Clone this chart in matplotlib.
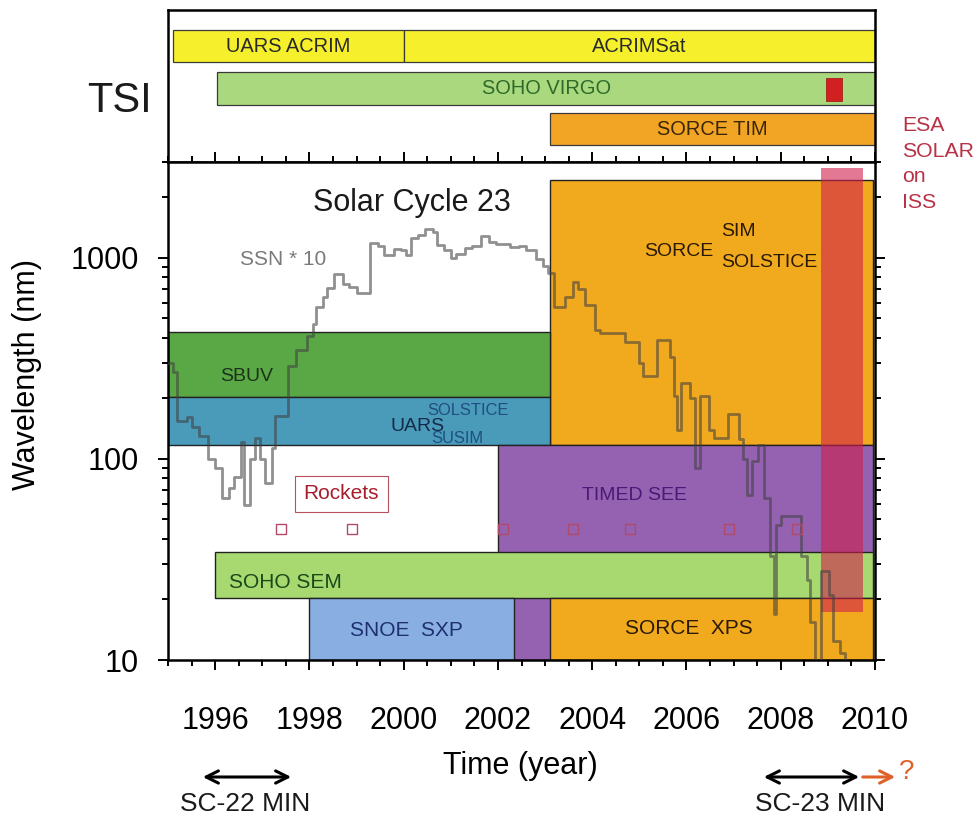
import numpy as np
import matplotlib.pyplot as plt
from matplotlib import font_manager
from matplotlib.patches import FancyArrowPatch
from matplotlib.ticker import FixedLocator, MultipleLocator, LogLocator, NullFormatter

# --- data ---
# TSI instruments (top panel)
tsi_names = ['UARS ACRIM', 'ACRIMSat', 'SOHO VIRGO', 'SORCE TIM']
tsi_start = [1995.1, 2000.0, 1996.05, 2003.1]
tsi_end = [2000.0, 2010.0, 2010.0, 2010.0]
virgo_mark = [2008.95, 2009.3]

# SSI instruments (lower panel): year range and wavelength range (nm)
band_names = ['SORCE SIM/SOLSTICE', 'SBUV', 'UARS', 'TIMED SEE', 'SOHO SEM', 'SNOE SXP', 'SORCE XPS']
band_start = [2003.1, 1995.0, 1995.0, 2002.0, 1996.0, 1998.0, 2003.1]
band_end = [2009.95, 2003.1, 2003.1, 2009.95, 2009.95, 2002.35, 2009.95]
band_lo = [117, 203, 117, 10, 20.3, 10, 10]
band_hi = [2440, 428, 203, 117, 34.4, 20.3, 20.3]

# ESA SOLAR on ISS
solar_start, solar_end = 2008.85, 2009.75
solar_lo, solar_hi = 17.3, 2800

# rocket flights
rocket_year = [1997.4, 1998.9, 2002.1, 2003.6, 2004.8, 2006.9, 2008.35]
rocket_wl = 45

# sunspot number * 10 (monthly-ish steps)
ssn_year = [1995.00, 1995.10, 1995.20, 1995.40, 1995.50, 1995.65, 1995.85, 1996.00,
            1996.15, 1996.30, 1996.40, 1996.55, 1996.62, 1996.75, 1996.85, 1996.95,
            1997.05, 1997.20, 1997.27, 1997.55, 1997.72, 1997.95, 1998.08, 1998.15,
            1998.28, 1998.38, 1998.52, 1998.72, 1998.85, 1999.00, 1999.28, 1999.45,
            1999.58, 1999.80, 1999.95, 2000.05, 2000.15, 2000.30, 2000.45, 2000.62,
            2000.70, 2000.85, 2001.00, 2001.12, 2001.30, 2001.45, 2001.65, 2001.82,
            2001.95, 2002.25, 2002.45, 2002.60, 2002.80, 2002.95, 2003.06, 2003.20,
            2003.42, 2003.59, 2003.70, 2003.84, 2004.06, 2004.16, 2004.70, 2005.00,
            2005.08, 2005.38, 2005.66, 2005.74, 2005.80, 2005.88, 2006.08, 2006.18,
            2006.28, 2006.48, 2006.58, 2006.88, 2007.12, 2007.20, 2007.28, 2007.38,
            2007.52, 2007.64, 2007.78, 2007.85, 2007.91, 2008.00, 2008.42, 2008.55,
            2008.63, 2008.72, 2008.86, 2009.02, 2009.10, 2009.26, 2009.36, 2009.50]
ssn10 = [300, 270, 155, 162, 145, 130, 100, 90,
         64, 72, 81, 122, 59, 100, 127, 100,
         76, 113, 164, 290, 350, 410, 470, 570,
         640, 710, 830, 740, 720, 670, 1190, 1150,
         1030, 1110, 1090, 1030, 1250, 1300, 1400, 1350,
         1160, 1090, 1000, 1050, 1120, 1140, 1280, 1200,
         1170, 1130, 1150, 1100, 990, 910, 840, 570,
         640, 760, 700, 580, 440, 425, 380, 300,
         260, 390, 320, 205, 140, 240, 200, 90,
         205, 140, 127, 168, 125, 100, 66, 98,
         117, 64, 33, 17, 47, 52, 33, 25,
         15.5, 8, 27.6, 21, 12.5, 10.8, 8, 8]

# --- fonts ---
names = {f.name for f in font_manager.fontManager.ttflist}
sans = 'Liberation Sans'
narrow = 'Liberation Sans Narrow' if 'Liberation Sans Narrow' in names else 'Liberation Sans'
nscale = 1.0 if narrow == 'Liberation Sans Narrow' else 0.85
plt.rcParams['font.family'] = [sans, 'DejaVu Sans']

W, H = 974, 816
fig = plt.figure(figsize=(W / 100, H / 100), dpi=100)

def fx(px):
    return px / W

def fy(py):
    return 1 - py / H

ax_top = fig.add_axes([fx(168), fy(162), fx(875) - fx(168), fy(10) - fy(162)])
ax = fig.add_axes([fx(168), fy(660), fx(875) - fx(168), fy(162) - fy(660)])

# --- top panel: TSI ---
row_lo = [0.658, 0.658, 0.375, 0.112]
row_hi = [0.868, 0.868, 0.592, 0.322]
tsi_colors = ['#f6ef2c', '#f6ef2c', '#a9d87e', '#f2a424']
tsi_text = ['#2a2a2a', '#2a2a2a', '#2f6a2a', '#3a2608']
for i in range(len(tsi_names)):
    ax_top.bar(tsi_start[i], row_hi[i] - row_lo[i], width=tsi_end[i] - tsi_start[i],
               bottom=row_lo[i], align='edge', color=tsi_colors[i],
               edgecolor='#3a3a3a', linewidth=0.9)
    ax_top.text((tsi_start[i] + tsi_end[i]) / 2, (row_lo[i] + row_hi[i]) / 2, tsi_names[i],
                ha='center', va='center', fontsize=17 * nscale, family=narrow, color=tsi_text[i])
ax_top.bar(virgo_mark[0], 0.553 - 0.401, width=virgo_mark[1] - virgo_mark[0], bottom=0.401,
           align='edge', color='#d21f1f', edgecolor='#a01010', linewidth=0.5)
ax_top.set_xlim(1995, 2010)
ax_top.set_ylim(0, 1)
ax_top.set_xticks([])
ax_top.set_yticks([])
for s in ax_top.spines.values():
    s.set_linewidth(1.8)
    s.set_color('black')

# --- lower panel: SSI ---
band_colors = ['#f1a91e', '#5aa845', '#4a9aba', '#9462b0', '#a8d870', '#88aee2', '#f1a91e']
for i in range(len(band_names)):
    ax.bar(band_start[i], band_hi[i] - band_lo[i], width=band_end[i] - band_start[i],
           bottom=band_lo[i], align='edge', color=band_colors[i],
           edgecolor='#222222', linewidth=1.0, zorder=2 + i * 0.01)

# ESA SOLAR overlay
ax.bar(solar_start, solar_hi - solar_lo, width=solar_end - solar_start, bottom=solar_lo,
       align='edge', color='#d01f4c', alpha=0.6, linewidth=0, zorder=4)

# sunspot number
ax.step(ssn_year, ssn10, where='post', color='#404040', alpha=0.58, lw=2.0, zorder=5)

# rockets
ax.plot(rocket_year, [rocket_wl] * len(rocket_year), 's', mfc='none', mec='#b04a68',
        ms=7, mew=1.0, zorder=6)
ax.text(1998.68, 67, 'Rockets', ha='center', va='center', fontsize=15, color='#a81c2c',
        zorder=7, bbox=dict(boxstyle='square,pad=0.4', fc='white', ec='#b85060', lw=0.8))

# band labels
ax.text(1996.1, 256, 'SBUV', fontsize=14, color='#1c331a', ha='left', va='center', zorder=7)
ax.text(2000.3, 145, 'UARS', fontsize=14, color='#142c48', ha='center', va='center', zorder=7)
ax.text(2001.37, 175, 'SOLSTICE', fontsize=14 * nscale, family=narrow, color='#1f4f82',
        ha='center', va='center', zorder=7)
ax.text(2001.13, 127, 'SUSIM', fontsize=14 * nscale, family=narrow, color='#1f4f82',
        ha='center', va='center', zorder=7)
ax.text(2005.83, 1080, 'SORCE', fontsize=14, color='#2a1a05', ha='center', va='center', zorder=7)
ax.text(2006.73, 1350, 'SIM', fontsize=14, color='#2a1a05', ha='left', va='center', zorder=7)
ax.text(2006.73, 950, 'SOLSTICE', fontsize=14, color='#2a1a05', ha='left', va='center', zorder=7)
ax.text(2004.9, 66, 'TIMED SEE', fontsize=14, color='#4a1a78', ha='center', va='center', zorder=7)
ax.text(1996.3, 24.2, 'SOHO SEM', fontsize=15, color='#1a4a1a', ha='left', va='center', zorder=7)
ax.text(2000.05, 14.1, 'SNOE  SXP', fontsize=15, color='#1e3070', ha='center', va='center', zorder=7)
ax.text(2006.05, 14.3, 'SORCE  XPS', fontsize=15, color='#2a1a05', ha='center', va='center', zorder=7)

ax.text(2000.17, 1870, 'Solar Cycle 23', fontsize=22, color='#1a1a1a', ha='center', va='center', zorder=7)
ax.text(1997.45, 980, 'SSN * 10', fontsize=15, color='#7a7a7a', ha='center', va='center', zorder=7)

ax.set_yscale('log')
ax.set_xlim(1995, 2010)
ax.set_ylim(10, 3000)
ax.xaxis.set_major_locator(FixedLocator(np.arange(1996, 2011, 2)))
ax.xaxis.set_minor_locator(MultipleLocator(0.5))
ax.yaxis.set_major_locator(FixedLocator([10, 100, 1000]))
ax.yaxis.set_minor_locator(LogLocator(base=10, subs=np.arange(2, 10)))
ax.yaxis.set_minor_formatter(NullFormatter())
ax.set_yticklabels(['10', '100', '1000'])
ax.set_xticklabels([str(y) for y in range(1996, 2011, 2)])
ax.tick_params(axis='both', which='both', direction='out', top=True, right=True,
               width=1.4, colors='black')
ax.tick_params(axis='both', which='major', length=7, labelsize=22)
ax.tick_params(axis='both', which='minor', length=4)
ax.tick_params(axis='x', which='major', pad=26)
ax.tick_params(axis='y', which='major', pad=14)
for s in ax.spines.values():
    s.set_linewidth(1.8)
    s.set_color('black')

# --- outer labels ---
fig.text(fx(119), fy(101), 'TSI', fontsize=30, ha='center', va='center', color='#1a1a1a')
fig.text(fx(27), fy(375), 'Wavelength (nm)', fontsize=22, rotation=90, ha='center', va='center')
fig.text(fx(520), fy(766), 'Time (year)', fontsize=22, ha='center', va='center')
fig.text(fx(902), fy(116), 'ESA\nSOLAR\non\nISS', fontsize=18 * nscale, family=narrow,
         color='#b83246', ha='left', va='top', linespacing=1.45)

# solar minimum markers
arrow_kw = dict(arrowstyle='<->', color='black', lw=2.2, mutation_scale=22)
fig.add_artist(FancyArrowPatch((fx(200), fy(777)), (fx(294), fy(777)),
                               transform=fig.transFigure, **arrow_kw))
fig.add_artist(FancyArrowPatch((fx(761), fy(777)), (fx(862), fy(777)),
                               transform=fig.transFigure, **arrow_kw))
fig.add_artist(FancyArrowPatch((fx(860), fy(777)), (fx(898), fy(777)),
                               transform=fig.transFigure, arrowstyle='->',
                               color='#e0602a', lw=2.2, mutation_scale=22))
fig.text(fx(907), fy(772), '?', fontsize=20, color='#e0602a', ha='center', va='center')
fig.text(fx(245), fy(804), 'SC-22 MIN', fontsize=19, ha='center', va='center', color='#1a1a1a')
fig.text(fx(820), fy(804), 'SC-23 MIN', fontsize=19, ha='center', va='center', color='#1a1a1a')

fig.savefig('out.png', dpi=100)
